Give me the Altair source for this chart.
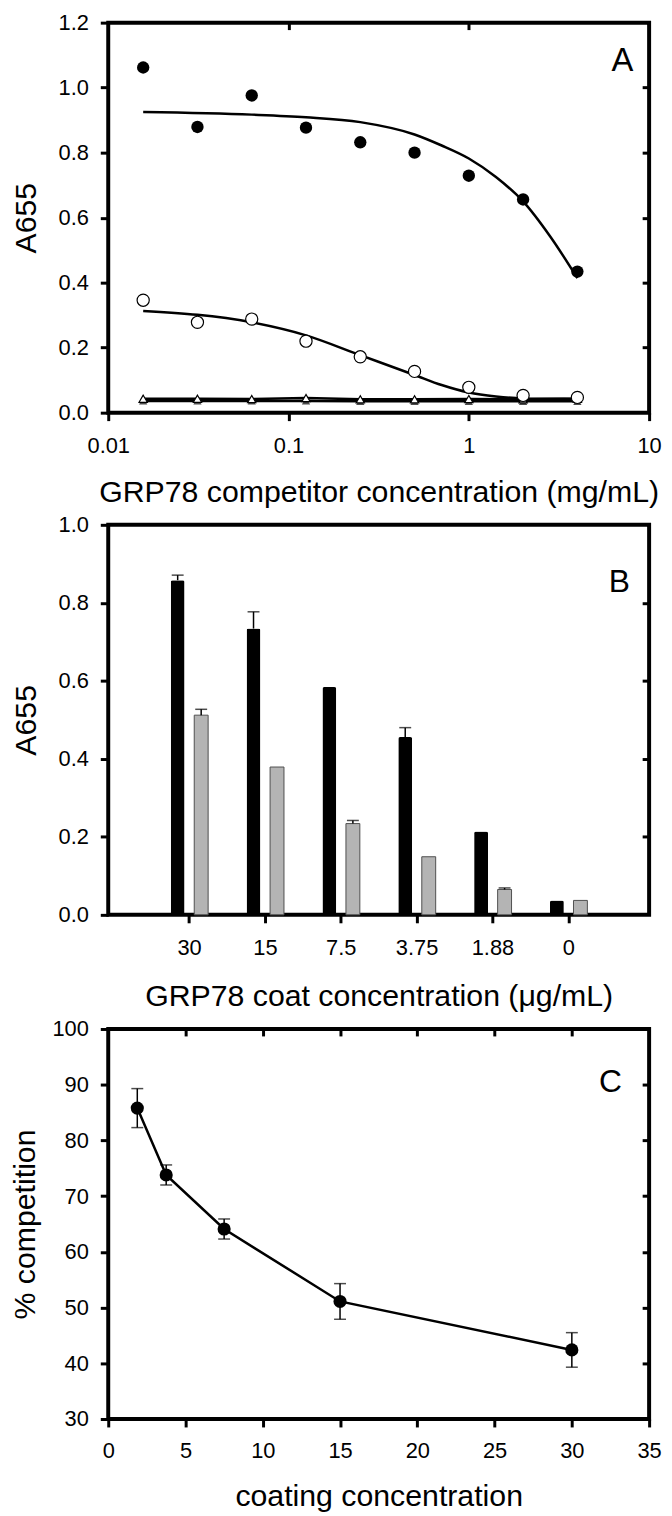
import altair as alt
import pandas as pd

# ---------------- Panel A data ----------------
competitor_conc = [0.015625, 0.03125, 0.0625, 0.125, 0.25, 0.5, 1.0, 2.0, 4.0]
filled_circle = [1.062, 0.879, 0.976, 0.877, 0.832, 0.800, 0.729, 0.656, 0.434]
open_circle = [0.346, 0.278, 0.288, 0.220, 0.172, 0.127, 0.078, 0.053, 0.047]
open_triangle = [0.043, 0.043, 0.042, 0.045, 0.041, 0.041, 0.042, 0.041, 0.043]
filled_triangle = [0.036, 0.036, 0.036, 0.036, 0.035, 0.035, 0.035, 0.035, 0.035]

fit_conc = [0.015625, 0.0625, 0.125, 0.25, 0.5, 0.707, 1.0, 1.414, 2.0, 2.828, 4.0]
fit_filled = [0.925, 0.917, 0.909, 0.894, 0.856, 0.822, 0.782, 0.725, 0.650, 0.542, 0.414]
fit_open = [0.313, 0.278, 0.238, 0.177, 0.116, 0.085, 0.062, 0.050, 0.044, 0.043, 0.042]

# ---------------- Panel B data ----------------
coat_labels = ["30", "15", "7.5", "3.75", "1.88", "0"]
black_bar = [0.858, 0.734, 0.584, 0.456, 0.214, 0.037]
black_err = [0.013, 0.043, 0.0, 0.024, 0.0, 0.0]
gray_bar = [0.512, 0.379, 0.234, 0.149, 0.065, 0.037]
gray_err = [0.015, 0.0, 0.008, 0.0, 0.004, 0.0]

# ---------------- Panel C data ----------------
coating = [1.88, 3.75, 7.5, 15, 30]
competition = [85.8, 73.8, 64.1, 51.1, 42.4]
competition_err = [3.5, 1.8, 1.8, 3.2, 3.1]

FONT = "Liberation Sans"
W, H = 545, 393
TICK = 8
LBL = 22
TTL = 30.5


def main_axis(title, values, label_expr=None, fmt=None, label_pad=12, title_pad=16):
    kw = dict(title=title, values=values, tickSize=TICK, labelPadding=label_pad,
              titlePadding=title_pad, domain=False, grid=False, minExtent=0)
    if label_expr is not None:
        kw["labelExpr"] = label_expr
    if fmt is not None:
        kw["format"] = fmt
    return alt.Axis(**kw)


def inner_axis(orient, values):
    return alt.Axis(orient=orient, values=values, labels=False, title=None,
                    tickSize=TICK - 1, offset=-(TICK - 1), domain=False, grid=False,
                    minExtent=0, maxExtent=0)


# ================= Panel A =================
xsA = alt.Scale(type="log", domain=[0.01, 10], nice=False)
ysA = alt.Scale(domain=[0, 1.2], nice=False)

ptsA = pd.concat([
    pd.DataFrame({"x": competitor_conc, "y": filled_circle, "s": "fc"}),
    pd.DataFrame({"x": competitor_conc, "y": open_circle, "s": "oc"}),
    pd.DataFrame({"x": competitor_conc, "y": open_triangle, "s": "ot"}),
    pd.DataFrame({"x": competitor_conc, "y": filled_triangle, "s": "ft"}),
])
fitA = pd.concat([
    pd.DataFrame({"x": fit_conc, "y": fit_filled, "s": "fc"}),
    pd.DataFrame({"x": fit_conc, "y": fit_open, "s": "oc"}),
])

axA_x = main_axis("GRP78 competitor concentration (mg/mL)", [0.01, 0.1, 1, 10],
                  label_expr="format(datum.value, '~g')", label_pad=15, title_pad=21)
axA_y = main_axis("A655", [0, 0.2, 0.4, 0.6, 0.8, 1.0, 1.2], fmt=".1f", title_pad=17)

frameA = alt.Chart(ptsA).mark_point(opacity=0).encode(
    x=alt.X("x:Q", scale=xsA, axis=inner_axis("top", [0.1, 1])),
    y=alt.Y("y:Q", scale=ysA, axis=inner_axis("right", [0.2, 0.4, 0.6, 0.8, 1.0])),
)
baseA = alt.Chart(ptsA).mark_point(opacity=0).encode(
    x=alt.X("x:Q", scale=xsA, axis=axA_x),
    y=alt.Y("y:Q", scale=ysA, axis=axA_y),
)
xA = alt.X("x:Q", scale=xsA, axis=None)
yA = alt.Y("y:Q", scale=ysA, axis=None)

fit_lines = alt.Chart(fitA).mark_line(color="black", strokeWidth=2.5, interpolate="monotone").encode(
    x=xA, y=yA, detail="s:N")
tri_lines = alt.Chart(ptsA).transform_filter("datum.s == 'ot' || datum.s == 'ft'").mark_line(
    color="black", strokeWidth=2.5).encode(x=xA, y=yA, detail="s:N")
ft_pts = alt.Chart(ptsA).transform_filter("datum.s == 'ft'").mark_point(
    shape="triangle-up", filled=True, color="black", size=70).encode(x=xA, y=yA)
ot_pts = alt.Chart(ptsA).transform_filter("datum.s == 'ot'").mark_point(
    shape="triangle-up", filled=True, fill="white", stroke="black", strokeWidth=1.2,
    size=70, opacity=1).encode(x=xA, y=yA)
oc_pts = alt.Chart(ptsA).transform_filter("datum.s == 'oc'").mark_point(
    shape="circle", filled=True, fill="white", stroke="black", strokeWidth=1.2,
    size=150, opacity=1).encode(x=xA, y=yA)
fc_pts = alt.Chart(ptsA).transform_filter("datum.s == 'fc'").mark_point(
    shape="circle", filled=True, color="black", size=155, opacity=1).encode(x=xA, y=yA)
letterA = alt.Chart(pd.DataFrame({"t": ["A"]})).mark_text(
    font=FONT, fontSize=33, color="black").encode(
    text="t:N", x=alt.value(518), y=alt.value(39))

panelA = alt.layer(baseA, frameA, fit_lines, tri_lines, ft_pts, ot_pts, oc_pts, fc_pts, letterA).resolve_axis(
    x="independent", y="independent").properties(width=W, height=H)

# ================= Panel B =================
n = len(coat_labels)
dfB = pd.concat([
    pd.DataFrame({"idx": list(range(1, n + 1)), "v": black_bar, "e": black_err, "s": "black"}),
    pd.DataFrame({"idx": list(range(1, n + 1)), "v": gray_bar, "e": gray_err, "s": "gray"}),
])
label_arr = "[" + ",".join("'" + c + "'" for c in coat_labels) + "]"
xsB = alt.Scale(domain=[0, n + 1], nice=False)
ysB = alt.Scale(domain=[0, 1.0], nice=False)

axB_x = main_axis("GRP78 coat concentration (\u03bcg/mL)", list(range(1, n + 1)),
                  label_expr=label_arr + "[datum.value - 1]", label_pad=15, title_pad=23)
axB_y = main_axis("A655", [0, 0.2, 0.4, 0.6, 0.8, 1.0], fmt=".1f", title_pad=17)

bB = alt.Chart(dfB).transform_calculate(
    pos="datum.idx + (datum.s == 'black' ? -0.15 : 0.16)",
    hi="datum.v + datum.e",
)
baseB = bB.mark_point(opacity=0).encode(
    x=alt.X("idx:Q", scale=xsB, axis=axB_x),
    y=alt.Y("v:Q", scale=ysB, axis=axB_y),
)
frameB = bB.mark_point(opacity=0).encode(
    x=alt.X("idx:Q", scale=xsB, axis=None),
    y=alt.Y("v:Q", scale=ysB, axis=inner_axis("right", [0.2, 0.4, 0.6, 0.8])),
)
xB = alt.X("pos:Q", scale=xsB, axis=None)
black_bars = bB.transform_filter("datum.s == 'black'").mark_bar(
    size=14, color="black", cornerRadiusTopLeft=2, cornerRadiusTopRight=2).encode(
    x=xB, y=alt.Y("v:Q", scale=ysB, axis=None))
gray_bars = bB.transform_filter("datum.s == 'gray'").mark_bar(
    size=14, fill="#b4b4b4", stroke="#505050", strokeWidth=1).encode(
    x=xB, y=alt.Y("v:Q", scale=ysB, axis=None))
err_rules = bB.transform_filter("datum.e > 0").mark_rule(color="black", strokeWidth=1.5).encode(
    x=xB, y=alt.Y("v:Q", scale=ysB, axis=None), y2="hi:Q")
err_caps = bB.transform_filter("datum.e > 0").mark_tick(
    orient="horizontal", color="black", size=12, thickness=1.5).encode(
    x=xB, y=alt.Y("hi:Q", scale=ysB, axis=None))
letterB = alt.Chart(pd.DataFrame({"t": ["B"]})).mark_text(
    font=FONT, fontSize=32, color="black").encode(
    text="t:N", x=alt.value(515), y=alt.value(58))

panelB = alt.layer(baseB, frameB, gray_bars, black_bars, err_rules, err_caps, letterB).resolve_axis(
    x="independent", y="independent").properties(width=W, height=H)

# ================= Panel C =================
dfC = pd.DataFrame({"x": coating, "y": competition, "e": competition_err})
xsC = alt.Scale(domain=[0, 35], nice=False)
ysC = alt.Scale(domain=[30, 100], nice=False)
axC_x = main_axis("coating concentration", [0, 5, 10, 15, 20, 25, 30, 35], label_pad=14, title_pad=20)
axC_y = main_axis("% competition", [30, 40, 50, 60, 70, 80, 90, 100], title_pad=12)

bC = alt.Chart(dfC).transform_calculate(lo="datum.y - datum.e", hi="datum.y + datum.e")
baseC = bC.mark_point(opacity=0).encode(
    x=alt.X("x:Q", scale=xsC, axis=axC_x),
    y=alt.Y("y:Q", scale=ysC, axis=axC_y),
)
frameC = bC.mark_point(opacity=0).encode(
    x=alt.X("x:Q", scale=xsC, axis=inner_axis("top", [5, 10, 15, 20, 25, 30])),
    y=alt.Y("y:Q", scale=ysC, axis=inner_axis("right", [40, 50, 60, 70, 80, 90])),
)
xC = alt.X("x:Q", scale=xsC, axis=None)
lineC = bC.mark_line(color="black", strokeWidth=2.5).encode(x=xC, y=alt.Y("y:Q", scale=ysC, axis=None))
errC = bC.mark_rule(color="black", strokeWidth=1.5).encode(
    x=xC, y=alt.Y("lo:Q", scale=ysC, axis=None), y2="hi:Q")
capLo = bC.mark_tick(orient="horizontal", color="black", size=12, thickness=1.5).encode(
    x=xC, y=alt.Y("lo:Q", scale=ysC, axis=None))
capHi = bC.mark_tick(orient="horizontal", color="black", size=12, thickness=1.5).encode(
    x=xC, y=alt.Y("hi:Q", scale=ysC, axis=None))
ptsC = bC.mark_point(shape="circle", filled=True, color="black", size=175, opacity=1).encode(
    x=xC, y=alt.Y("y:Q", scale=ysC, axis=None))
letterC = alt.Chart(pd.DataFrame({"t": ["C"]})).mark_text(
    font=FONT, fontSize=32, color="black").encode(
    text="t:N", x=alt.value(506), y=alt.value(54))

panelC = alt.layer(baseC, frameC, errC, capLo, capHi, lineC, ptsC, letterC).resolve_axis(
    x="independent", y="independent").properties(width=W, height=H)

chart = alt.vconcat(panelA, panelB, panelC, spacing=2).properties(
    padding={"left": 0, "top": -4, "right": 0, "bottom": 0}
).configure_view(
    stroke="black", strokeWidth=4
).configure_axis(
    labelFont=FONT, titleFont=FONT, labelFontSize=LBL, titleFontSize=TTL,
    titleFontWeight="normal", labelColor="black", titleColor="black",
    tickColor="black", tickWidth=3, labelFlush=False, labelOverlap=False,
)

chart.save("out.html", embed_options={"renderer": "svg", "actions": False})
